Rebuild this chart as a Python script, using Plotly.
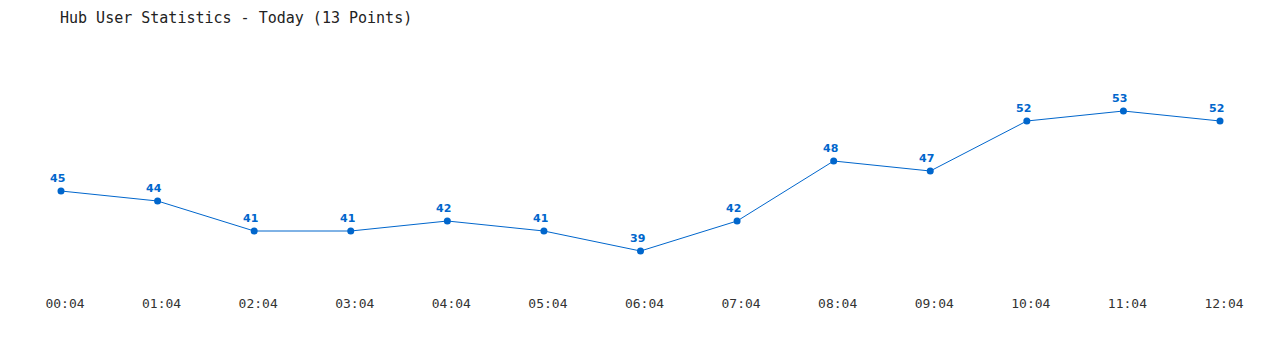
import plotly.graph_objects as go

times = ["00:04", "01:04", "02:04", "03:04", "04:04", "05:04", "06:04",
         "07:04", "08:04", "09:04", "10:04", "11:04", "12:04"]
users = [45, 44, 41, 41, 42, 41, 39, 42, 48, 47, 52, 53, 52]

idx = list(range(len(times)))
blue = "#0066cc"

fig = go.Figure()
fig.add_trace(go.Scatter(
    x=idx, y=users, mode="lines+markers",
    line=dict(color=blue, width=1),
    marker=dict(color=blue, size=7),
    cliponaxis=False, hoverinfo="x+y",
))

for i, v in zip(idx, users):
    fig.add_annotation(x=i, y=v, text=str(v), showarrow=False,
                       xshift=-3.5, yshift=13,
                       font=dict(family="DejaVu Sans, Verdana, sans-serif", size=11,
                                 color=blue, weight="bold"))

fig.update_layout(
    width=1280, height=350,
    margin=dict(l=61, r=60, t=40, b=60),
    paper_bgcolor="white", plot_bgcolor="white",
    showlegend=False,
    title=dict(text="Hub User Statistics - Today (13 Points)",
               x=60/1280, xref="container", xanchor="left",
               y=1-18/350, yref="container", yanchor="middle",
               font=dict(family="DejaVu Sans Mono, Liberation Mono, monospace", size=15, color="#222222")),
    xaxis=dict(range=[0, 12], tickvals=idx, ticktext=times, showgrid=False,
               zeroline=False, showline=False, ticks="",
               ticklabelshift=4, ticklabelstandoff=4,
               tickfont=dict(family="DejaVu Sans Mono, Liberation Mono, monospace", size=13, color="#333333")),
    yaxis=dict(range=[35.1, 60.1], showgrid=False, zeroline=False, showline=False,
               showticklabels=False, ticks=""),
)
fig.write_html("out.html")
